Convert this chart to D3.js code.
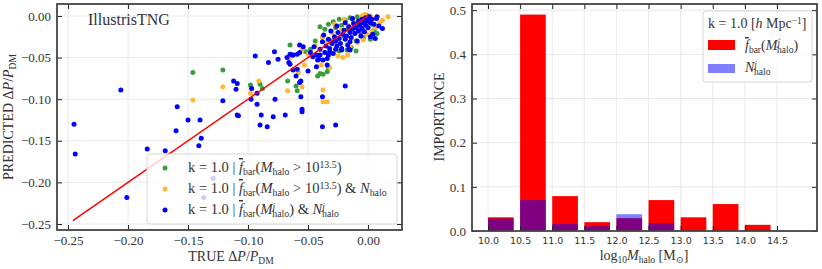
<!DOCTYPE html>
<html>
<head>
<meta charset="utf-8">
<script src="https://cdn.jsdelivr.net/npm/d3@7"></script>
<style>
  body { margin: 0; background: #fff; }
  svg text { font-family: "Liberation Serif", "DejaVu Serif", serif; fill: #333; }
</style>
</head>
<body>
<div id="chart"></div>
<script>
// left panel: true vs predicted, three models
var greenPts = [
  [-0.146,-0.068],[-0.121,-0.065],[-0.098,-0.083],[-0.090,-0.082],[-0.088,-0.087],
  [-0.067,-0.078],[-0.060,-0.084],[-0.059,-0.090],[-0.042,-0.072],[-0.040,-0.069],
  [-0.0375,-0.070],[-0.034,-0.067],[-0.033,-0.0625],
  [-0.040,-0.013],[-0.036,-0.016],[-0.033,-0.010],[-0.029,-0.007],[-0.027,-0.014],
  [-0.024,-0.004],[-0.022,-0.011],[-0.019,-0.005],[-0.017,-0.016],[-0.015,-0.002],
  [-0.013,-0.004],[-0.011,-0.009],[-0.009,-0.001],[-0.007,-0.013],[-0.005,-0.003],
  [-0.003,-0.007],[-0.001,0.001],[0.001,-0.004],[0.003,-0.010],[0.005,-0.017],
  [0.0075,-0.021],[0.002,-0.028],[-0.004,-0.026],[-0.010,-0.030],[-0.014,-0.038],
  [-0.0175,-0.041],[-0.010,-0.042],[-0.024,-0.042],[-0.030,-0.030],[-0.038,-0.025],
  [-0.044,-0.030],[-0.048,-0.040],[-0.052,-0.043],[-0.065,-0.035],[-0.020,-0.024],
  [-0.006,-0.019]
];
var orangePts = [
  [-0.146,-0.101],[-0.121,-0.085],[-0.091,-0.078],[-0.098,-0.093],[-0.067,-0.090],
  [-0.055,-0.085],[-0.058,-0.068],[-0.0375,-0.089],[-0.0375,-0.103],[-0.034,-0.103],
  [-0.053,-0.059],[-0.039,-0.059],[-0.032,-0.062],[-0.021,-0.050],[-0.065,-0.050],
  [-0.017,-0.047],
  [0.0167,-0.001],[0.0075,-0.001],[0.002,0.000],[-0.0025,0.002],[-0.005,0.000],
  [-0.008,-0.018],[-0.015,-0.037],[-0.025,-0.048],[-0.044,-0.036],[-0.034,-0.030],
  [-0.038,-0.025],[-0.030,-0.020],[-0.026,-0.031],[-0.022,-0.016],[-0.018,-0.026],
  [-0.012,-0.008],[-0.010,-0.020],[-0.006,-0.012],[-0.003,-0.006],[0.000,-0.010],
  [0.004,-0.004],[0.006,-0.014],[0.010,-0.008],[0.012,-0.005],[-0.001,-0.022],
  [-0.016,-0.012],[-0.020,-0.004],[-0.028,-0.010],[-0.036,-0.044],[-0.050,-0.046],
  [-0.055,-0.041],[-0.009,-0.032],[-0.004,-0.029],[0.003,-0.019]
];
var bluePts = [
  [-0.245,-0.130],[-0.206,-0.089],[-0.159,-0.109],[-0.160,-0.138],[-0.150,-0.125],
  [-0.140,-0.125],[-0.121,-0.102],[-0.112,-0.078],[-0.109,-0.081],[-0.110,-0.088],
  [-0.108,-0.120],[-0.094,-0.048],[-0.083,-0.056],[-0.078,-0.043],[-0.075,-0.052],
  [-0.0775,-0.100],[-0.097,-0.087],[-0.0925,-0.093],[-0.0975,-0.100],[-0.0925,-0.106],
  [-0.089,-0.119],[-0.090,-0.131],[-0.084,-0.133],[-0.079,-0.121],[-0.069,-0.119],
  [-0.0675,-0.050],[-0.065,-0.046],[-0.0625,-0.047],[-0.059,-0.046],[-0.0625,-0.065],
  [-0.059,-0.064],[-0.065,-0.058],[-0.109,-0.119],[-0.139,-0.147],[-0.141,-0.156],
  [-0.244,-0.166],[-0.184,-0.160],[-0.169,-0.162],[-0.201,-0.218],[-0.129,-0.195],
  [-0.137,-0.218],
  [-0.057,-0.035],[-0.054,-0.037],[-0.057,-0.044],[-0.063,-0.047],[-0.066,-0.056],
  [-0.060,-0.072],[-0.056,-0.078],[-0.057,-0.080],[-0.056,-0.097],[-0.055,-0.112],
  [-0.055,-0.115],[-0.038,-0.097],[-0.038,-0.133],[-0.027,-0.131],[-0.019,-0.084],
  [-0.050,-0.066],[-0.043,-0.061],[-0.034,-0.059],[-0.042,-0.053],[-0.046,-0.049],
  [-0.040,-0.047],[-0.0375,-0.053],[-0.033,-0.047],[-0.032,-0.043],[-0.015,-0.041],
  [0.012,-0.015],[0.002,-0.025],[-0.016,-0.040],[-0.022,-0.039],[0.0075,-0.001],
  [-0.048,-0.044],[-0.045,-0.037],[-0.043,-0.047],[-0.040,-0.040],[-0.038,-0.031],
  [-0.036,-0.044],[-0.035,-0.036],[-0.033,-0.028],[-0.032,-0.039],[-0.030,-0.033],
  [-0.029,-0.045],[-0.028,-0.025],[-0.027,-0.030],[-0.026,-0.036],[-0.025,-0.020],
  [-0.024,-0.027],[-0.023,-0.033],[-0.022,-0.041],[-0.021,-0.022],[-0.020,-0.017],
  [-0.019,-0.028],[-0.018,-0.024],[-0.017,-0.035],[-0.016,-0.013],[-0.015,-0.020],
  [-0.014,-0.026],[-0.013,-0.016],[-0.012,-0.009],[-0.011,-0.021],[-0.010,-0.014],
  [-0.009,-0.030],[-0.008,-0.006],[-0.008,-0.018],[-0.007,-0.011],[-0.006,-0.024],
  [-0.005,-0.004],[-0.005,-0.015],[-0.004,-0.008],[-0.003,-0.019],[-0.002,-0.002],
  [-0.002,-0.011],[-0.001,-0.006],[0.000,-0.014],[0.001,-0.001],[0.002,-0.008],
  [0.003,-0.004],[0.004,-0.022],[0.005,-0.010],[0.007,-0.003],[0.009,-0.012],
  [-0.037,-0.023],[-0.031,-0.018],[-0.026,-0.012],[-0.019,-0.008],[-0.013,-0.003],
  [-0.041,-0.052],[-0.034,-0.051],[-0.027,-0.040],[-0.015,-0.031],[0.006,-0.027]
];
var oneToOne = [-0.246, 0.0];
var leftTicks = [-0.25, -0.20, -0.15, -0.10, -0.05, 0.00];

// right panel: importance per halo mass bin
var massBins = [10.0, 10.5, 11.0, 11.5, 12.0, 12.5, 13.0, 13.5, 14.0, 14.5];
var fbarImp  = [0.031, 0.490, 0.079, 0.020, 0.029, 0.070, 0.031, 0.061, 0.014, 0.0];
var nhaloImp = [0.028, 0.070, 0.016, 0.011, 0.038, 0.018, 0.0, 0.0, 0.0, 0.0];
var impTicks = [0.0, 0.1, 0.2, 0.3, 0.4, 0.5];
var binWidth = 0.4;

var W = 822, H = 269;
var frame = "#444";

var svg = d3.select("#chart").append("svg")
  .attr("width", W).attr("height", H);

// write a label made of pieces: i = italic, sub/sup = scripts, ov = overline
function mathText(sel, parts) {
  parts.forEach(function(p) {
    var ts = sel.append("tspan").text(p.t);
    if (p.i) ts.attr("font-style", "italic");
    if (p.ov) ts.style("text-decoration", "overline");
    if (p.sub) ts.attr("baseline-shift", "-0.3em").attr("font-size", "68%");
    if (p.sup) ts.attr("baseline-shift", "0.45em").attr("font-size", "68%");
    if (p.dx) ts.attr("dx", p.dx);
  });
  return sel;
}

function drawGrid(g, x, y, xt, yt) {
  var x0 = x.range()[0], x1 = x.range()[1];
  var y0 = y.range()[0], y1 = y.range()[1];
  g.append("g").selectAll("line").data(xt).join("line")
    .attr("x1", d => x(d)).attr("x2", d => x(d))
    .attr("y1", y0).attr("y2", y1)
    .attr("stroke", "#e3e3e3").attr("stroke-width", 0.8);
  g.append("g").selectAll("line").data(yt).join("line")
    .attr("y1", d => y(d)).attr("y2", d => y(d))
    .attr("x1", x0).attr("x2", x1)
    .attr("stroke", "#e3e3e3").attr("stroke-width", 0.8);
}

function drawAxes(g, x, y, xt, yt, xFmt, yFmt, xFont, yFont) {
  var x0 = x.range()[0], x1 = x.range()[1];
  var y0 = y.range()[0], y1 = y.range()[1];
  var axB = d3.axisBottom(x).tickValues(xt).tickSize(-5).tickPadding(6).tickFormat(xFmt);
  var axT = d3.axisTop(x).tickValues(xt).tickSize(-5).tickFormat("");
  var axL = d3.axisLeft(y).tickValues(yt).tickSize(-5).tickPadding(6).tickFormat(yFmt);
  var axR = d3.axisRight(y).tickValues(yt).tickSize(-5).tickFormat("");
  [[axB, "translate(0," + y0 + ")"], [axT, "translate(0," + y1 + ")"],
   [axL, "translate(" + x0 + ",0)"], [axR, "translate(" + x1 + ",0)"]].forEach(function(a, i) {
    var ag = g.append("g").attr("transform", a[1]).call(a[0]);
    ag.select(".domain").remove();
    ag.selectAll(".tick line").attr("stroke", "#222").attr("stroke-width", 1);
    ag.selectAll("text").attr("fill", "#333");
    if (i === 0) ag.selectAll("text").style("font-family", xFont.family).style("font-size", xFont.size);
    if (i === 2) ag.selectAll("text").style("font-family", yFont.family).style("font-size", yFont.size);
  });
  g.append("rect").attr("x", x0).attr("y", y1)
    .attr("width", x1 - x0).attr("height", y0 - y1)
    .attr("fill", "none").attr("stroke", frame).attr("stroke-width", 1.8);
}

var minus = function(s) { return s.replace("-", "\u2212"); };

// ---------- left panel ----------
var xL = d3.scaleLinear().domain([-0.2592, 0.0283]).range([57, 402]);
var yL = d3.scaleLinear().domain([-0.2572, 0.0144]).range([230, 4]);
var gL = svg.append("g");
svg.append("clipPath").attr("id", "clipL").append("rect")
  .attr("x", 57).attr("y", 4).attr("width", 345).attr("height", 226);

drawGrid(gL, xL, yL, leftTicks, leftTicks);

var dots = gL.append("g").attr("clip-path", "url(#clipL)");
[[greenPts, "#3a9e3a"], [orangePts, "#ffb833"], [bluePts, "#0000ff"]].forEach(function(s) {
  dots.append("g").selectAll("circle").data(s[0]).join("circle")
    .attr("cx", d => xL(d[0])).attr("cy", d => yL(d[1]))
    .attr("r", 2.5).attr("fill", s[1]);
});
dots.append("line")
  .attr("x1", xL(oneToOne[0])).attr("y1", yL(oneToOne[0]))
  .attr("x2", xL(oneToOne[1])).attr("y2", yL(oneToOne[1]))
  .attr("stroke", "#ff0000").attr("stroke-width", 1.5);

drawAxes(gL, xL, yL, leftTicks, leftTicks,
  d => minus(d3.format(".2f")(d)), d => minus(d3.format(".2f")(d)),
  {family: "Liberation Serif", size: "13px"}, {family: "Liberation Serif", size: "13px"});

gL.append("text").attr("x", 88).attr("y", 25).attr("font-size", "16px").text("IllustrisTNG");

// left legend
var legL = gL.append("g");
legL.append("rect").attr("x", 147).attr("y", 154).attr("width", 250).attr("height", 70)
  .attr("rx", 3).attr("fill", "#fff").attr("fill-opacity", 0.8)
  .attr("stroke", "#d6d6d6").attr("stroke-width", 1);
var legRows = [
  {c: "#3a9e3a", y: 168, parts: [{t: "k = 1.0 | "}, {t: "f", i: 1, ov: 1}, {t: "bar", sub: 1},
    {t: "("}, {t: "M", i: 1}, {t: "halo", sub: 1}, {t: " > 10"}, {t: "13.5", sup: 1}, {t: ")"}]},
  {c: "#ffb833", y: 189, parts: [{t: "k = 1.0 | "}, {t: "f", i: 1, ov: 1}, {t: "bar", sub: 1},
    {t: "("}, {t: "M", i: 1}, {t: "halo", sub: 1}, {t: " > 10"}, {t: "13.5", sup: 1}, {t: ") & "},
    {t: "N", i: 1}, {t: "halo", sub: 1}]},
  {c: "#0000ff", y: 210, parts: [{t: "k = 1.0 | "}, {t: "f", i: 1, ov: 1}, {t: "bar", sub: 1},
    {t: "("}, {t: "M", i: 1}, {t: "j", i: 1, sup: 1}, {t: "halo", sub: 1, dx: -3}, {t: ") & "},
    {t: "N", i: 1}, {t: "j", i: 1, sup: 1}, {t: "halo", sub: 1, dx: -3}]}
];
legRows.forEach(function(r) {
  legL.append("circle").attr("cx", 165).attr("cy", r.y).attr("r", 2.5).attr("fill", r.c);
  mathText(legL.append("text").attr("x", 188).attr("y", r.y + 4).attr("font-size", "14.5px"), r.parts);
});

mathText(svg.append("text").attr("text-anchor", "middle")
  .attr("transform", "translate(13,117) rotate(-90)").attr("font-size", "14px"),
  [{t: "PREDICTED \u0394"}, {t: "P", i: 1}, {t: "/"}, {t: "P", i: 1}, {t: "DM", sub: 1}]);
mathText(svg.append("text").attr("text-anchor", "middle")
  .attr("x", 231).attr("y", 261).attr("font-size", "14px"),
  [{t: "TRUE \u0394"}, {t: "P", i: 1}, {t: "/"}, {t: "P", i: 1}, {t: "DM", sub: 1}]);

// ---------- right panel ----------
var xR = d3.scaleLinear().domain([9.751, 15.123]).range([472, 817]);
var yR = d3.scaleLinear().domain([0, 0.514]).range([231, 4]);
var gR = svg.append("g");

drawGrid(gR, xR, yR, massBins, impTicks);

gR.append("g").selectAll("rect").data(massBins).join("rect")
  .attr("x", d => xR(d)).attr("width", xR(binWidth) - xR(0))
  .attr("y", (d, i) => yR(fbarImp[i])).attr("height", (d, i) => yR(0) - yR(fbarImp[i]))
  .attr("fill", "#ff0000");
gR.append("g").selectAll("rect").data(massBins).join("rect")
  .attr("x", d => xR(d)).attr("width", xR(binWidth) - xR(0))
  .attr("y", (d, i) => yR(nhaloImp[i])).attr("height", (d, i) => yR(0) - yR(nhaloImp[i]))
  .attr("fill", "#0000ff").attr("fill-opacity", 0.5);

drawAxes(gR, xR, yR, massBins, impTicks,
  d3.format(".1f"), d3.format(".1f"),
  {family: "DejaVu Sans", size: "9.5px"}, {family: "Liberation Serif", size: "13px"});

// right legend
var legR = gR.append("g");
legR.append("rect").attr("x", 703).attr("y", 11).attr("width", 109).attr("height", 71)
  .attr("rx", 3).attr("fill", "#fff").attr("fill-opacity", 0.8)
  .attr("stroke", "#d6d6d6").attr("stroke-width", 1);
mathText(legR.append("text").attr("x", 708).attr("y", 28).attr("font-size", "14px"),
  [{t: "k = 1.0 ["}, {t: "h", i: 1}, {t: " Mpc"}, {t: "\u22121", sup: 1}, {t: "]"}]);
legR.append("rect").attr("x", 708).attr("y", 40).attr("width", 27).attr("height", 10).attr("fill", "#ff0000");
legR.append("rect").attr("x", 708).attr("y", 64).attr("width", 27).attr("height", 9)
  .attr("fill", "#0000ff").attr("fill-opacity", 0.5);
mathText(legR.append("text").attr("x", 745).attr("y", 50).attr("font-size", "14px"),
  [{t: "f", i: 1, ov: 1}, {t: "bar", sub: 1}, {t: "("}, {t: "M", i: 1}, {t: "j", i: 1, sup: 1},
   {t: "halo", sub: 1, dx: -3}, {t: ")"}]);
mathText(legR.append("text").attr("x", 745).attr("y", 72).attr("font-size", "14px"),
  [{t: "N", i: 1}, {t: "j", i: 1, sup: 1}, {t: "halo", sub: 1, dx: -3}]);

svg.append("text").attr("text-anchor", "middle")
  .attr("transform", "translate(444,117) rotate(-90)").attr("font-size", "14px")
  .text("IMPORTANCE");
mathText(svg.append("text").attr("text-anchor", "middle")
  .attr("x", 644).attr("y", 260).attr("font-size", "14px"),
  [{t: "log"}, {t: "10", sub: 1}, {t: "M", i: 1}, {t: "halo", sub: 1}, {t: " [M"}, {t: "\u2299", sub: 1}, {t: "]"}]);
</script>
</body>
</html>
